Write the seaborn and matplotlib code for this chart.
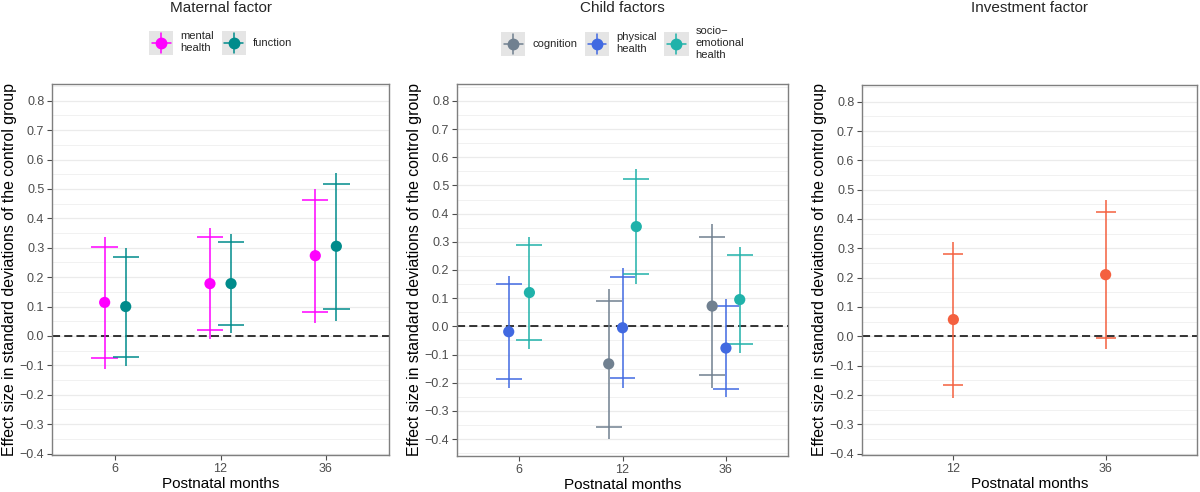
import numpy as np
import pandas as pd
import matplotlib
matplotlib.use("Agg")
import matplotlib.pyplot as plt
import seaborn as sns
from matplotlib.legend_handler import HandlerBase
from matplotlib.patches import Rectangle
from matplotlib.lines import Line2D

# ---- data ----
# maternal factor
maternal_months = ["6", "12", "36"]
mental_est = [0.114, 0.178, 0.273]
mental_lo95 = [-0.111, -0.009, 0.045]
mental_hi95 = [0.335, 0.366, 0.500]
mental_lo90 = [-0.076, 0.019, 0.082]
mental_hi90 = [0.301, 0.338, 0.464]

function_est = [0.100, 0.178, 0.305]
function_lo95 = [-0.102, 0.011, 0.051]
function_hi95 = [0.300, 0.347, 0.555]
function_lo90 = [-0.070, 0.038, 0.093]
function_hi90 = [0.269, 0.320, 0.517]

# child factors
child_months = ["6", "12", "36"]
cognition_months = ["12", "36"]
cognition_est = [-0.133, 0.072]
cognition_lo95 = [-0.400, -0.220]
cognition_hi95 = [0.131, 0.362]
cognition_lo90 = [-0.356, -0.174]
cognition_hi90 = [0.090, 0.318]

physical_months = ["6", "12", "36"]
physical_est = [-0.019, -0.005, -0.077]
physical_lo95 = [-0.218, -0.218, -0.250]
physical_hi95 = [0.179, 0.207, 0.098]
physical_lo90 = [-0.186, -0.183, -0.221]
physical_hi90 = [0.149, 0.175, 0.072]

socio_months = ["6", "12", "36"]
socio_est = [0.120, 0.354, 0.095]
socio_lo95 = [-0.079, 0.151, -0.093]
socio_hi95 = [0.318, 0.557, 0.282]
socio_lo90 = [-0.049, 0.185, -0.064]
socio_hi90 = [0.288, 0.524, 0.253]

# investment factor
investment_months = ["12", "36"]
investment_est = [0.057, 0.210]
investment_lo95 = [-0.210, -0.045]
investment_hi95 = [0.322, 0.465]
investment_lo90 = [-0.167, -0.006]
investment_hi90 = [0.281, 0.425]

y_ticks = [-0.4, -0.3, -0.2, -0.1, 0.0, 0.1, 0.2, 0.3, 0.4, 0.5, 0.6, 0.7, 0.8]


def make_df(panel, group, months, est, lo95, hi95, lo90, hi90):
    return pd.DataFrame({"panel": panel, "group": group, "month": months,
                         "est": est, "lo95": lo95, "hi95": hi95,
                         "lo90": lo90, "hi90": hi90})


df = pd.concat([
    make_df("maternal", "mental\nhealth", maternal_months, mental_est, mental_lo95, mental_hi95, mental_lo90, mental_hi90),
    make_df("maternal", "function", maternal_months, function_est, function_lo95, function_hi95, function_lo90, function_hi90),
    make_df("child", "cognition", cognition_months, cognition_est, cognition_lo95, cognition_hi95, cognition_lo90, cognition_hi90),
    make_df("child", "physical\nhealth", physical_months, physical_est, physical_lo95, physical_hi95, physical_lo90, physical_hi90),
    make_df("child", "socio\u2212\nemotional\nhealth", socio_months, socio_est, socio_lo95, socio_hi95, socio_lo90, socio_hi90),
    make_df("investment", "investment", investment_months, investment_est, investment_lo95, investment_hi95, investment_lo90, investment_hi90),
], ignore_index=True)

palettes = {
    "maternal": {"mental\nhealth": "#FF00FF", "function": "#008B8B"},
    "child": {"cognition": "#708090", "physical\nhealth": "#4169E1",
              "socio\u2212\nemotional\nhealth": "#20B2AA"},
    "investment": {"investment": "#F4603F"},
}
month_order = {"maternal": maternal_months, "child": child_months, "investment": investment_months}
titles = {"maternal": "Maternal factor", "child": "Child factors", "investment": "Investment factor"}

sns.set_style("white")
plt.rcParams["font.family"] = ["Liberation Sans", "DejaVu Sans"]


class CrossKey(HandlerBase):
    # grey key box with a point and a cross, like the ggplot legend keys
    def create_artists(self, legend, orig_handle, xdescent, ydescent, width, height, fontsize, trans):
        c = orig_handle.get_color()
        x0, y0 = -xdescent, -ydescent
        cx, cy = x0 + width / 2, y0 + height / 2
        bg = Rectangle((x0, y0), width, height, facecolor="#E5E5E5", edgecolor="none", transform=trans)
        v = Line2D([cx, cx], [y0 + 0.08 * height, y0 + 0.92 * height], color=c, lw=1.1, transform=trans)
        h = Line2D([x0 + 0.12 * width, x0 + 0.88 * width], [cy, cy], color=c, lw=1.1, transform=trans)
        d = Line2D([cx], [cy], marker="o", ms=7.5, color=c, ls="none", transform=trans)
        return [bg, v, h, d]


fig = plt.figure(figsize=(12, 4.92), dpi=100)
W, H = 1200, 492
# panel boxes in pixels: left, right, top, bottom
boxes = {"maternal": (52, 389, 84, 455), "child": (457, 788, 84, 456), "investment": (862, 1197, 85, 455)}
ylims = {"maternal": (-0.405, 0.857), "child": (-0.46, 0.86), "investment": (-0.405, 0.857)}
capw = {"maternal": 0.125, "child": 0.125, "investment": 0.065}

for panel in ["maternal", "child", "investment"]:
    l, r, t, b = boxes[panel]
    ax = fig.add_axes([l / W, (H - b) / H, (r - l) / W, (b - t) / H])
    d = df[df.panel == panel].copy()
    months = month_order[panel]
    groups = list(palettes[panel].keys())

    # dodge (width 0.4) among groups present at each month
    xs = []
    for _, row in d.iterrows():
        present = [g for g in groups if ((d.month == row.month) & (d.group == g)).any()]
        n = len(present)
        k = present.index(row.group)
        xs.append(months.index(row.month) + (k - (n - 1) / 2) * 0.4 / n)
    d["x"] = xs

    ax.yaxis.set_minor_locator(plt.MultipleLocator(0.05))
    ax.grid(True, which="major", axis="y", color="#EBEBEB", lw=0.9)
    ax.grid(True, which="minor", axis="y", color="#EBEBEB", lw=0.5)
    ax.set_axisbelow(True)
    ax.axhline(0, color="black", lw=1.1, ls=(0, (5.3, 2.7)), zorder=1)

    for g in groups:
        dg = d[d.group == g]
        c = palettes[panel][g]
        ax.vlines(dg.x, dg.lo95, dg.hi95, color=c, lw=1.1, zorder=2)
        ax.hlines(dg.lo90, dg.x - capw[panel], dg.x + capw[panel], color=c, lw=1.1, zorder=2)
        ax.hlines(dg.hi90, dg.x - capw[panel], dg.x + capw[panel], color=c, lw=1.1, zorder=2)

    sns.scatterplot(data=d, x="x", y="est", hue="group", palette=palettes[panel],
                    s=65, edgecolor="none", legend=False, ax=ax, zorder=3)

    ax.set_xlim(-0.6, len(months) - 0.4)
    ax.set_xticks(range(len(months)))
    ax.set_xticklabels(months)
    ax.set_ylim(*ylims[panel])
    ax.set_yticks(y_ticks)
    ax.set_yticklabels([f"{v:.1f}".replace("-", "\u2212") for v in y_ticks])
    ax.tick_params(axis="both", which="major", labelsize=9, labelcolor="#4D4D4D",
                   color="#4D4D4D", length=3.5, width=0.8, left=True, bottom=True, pad=2)
    ax.tick_params(axis="y", which="minor", left=False)
    for s in ax.spines.values():
        s.set_color("#7F7F7F")
        s.set_linewidth(1.0)

    ax.set_xlabel("Postnatal months", fontsize=11, color="black", labelpad=2)
    ax.set_ylabel("Effect size in standard deviations of the control group", fontsize=11.4, color="black")
    ax.yaxis.set_label_coords(-35 / (r - l), 0.5)

    hpx = b - t
    ax.text(0.5, 1 + (t - 8) / hpx, titles[panel], transform=ax.transAxes,
            ha="center", va="center", fontsize=11)

    if len(groups) > 1:
        handles = [Line2D([], [], color=palettes[panel][g], label=g) for g in groups]
        ax.legend(handles=handles, handler_map={Line2D: CrossKey()}, loc="center",
                  bbox_to_anchor=(0.5, 1 + (t - 43) / hpx), ncol=len(groups), frameon=False,
                  fontsize=8, handlelength=2.2, handleheight=2.9, handletextpad=0.6,
                  columnspacing=0.7, borderaxespad=0)

fig.savefig("out.png", dpi=100)
